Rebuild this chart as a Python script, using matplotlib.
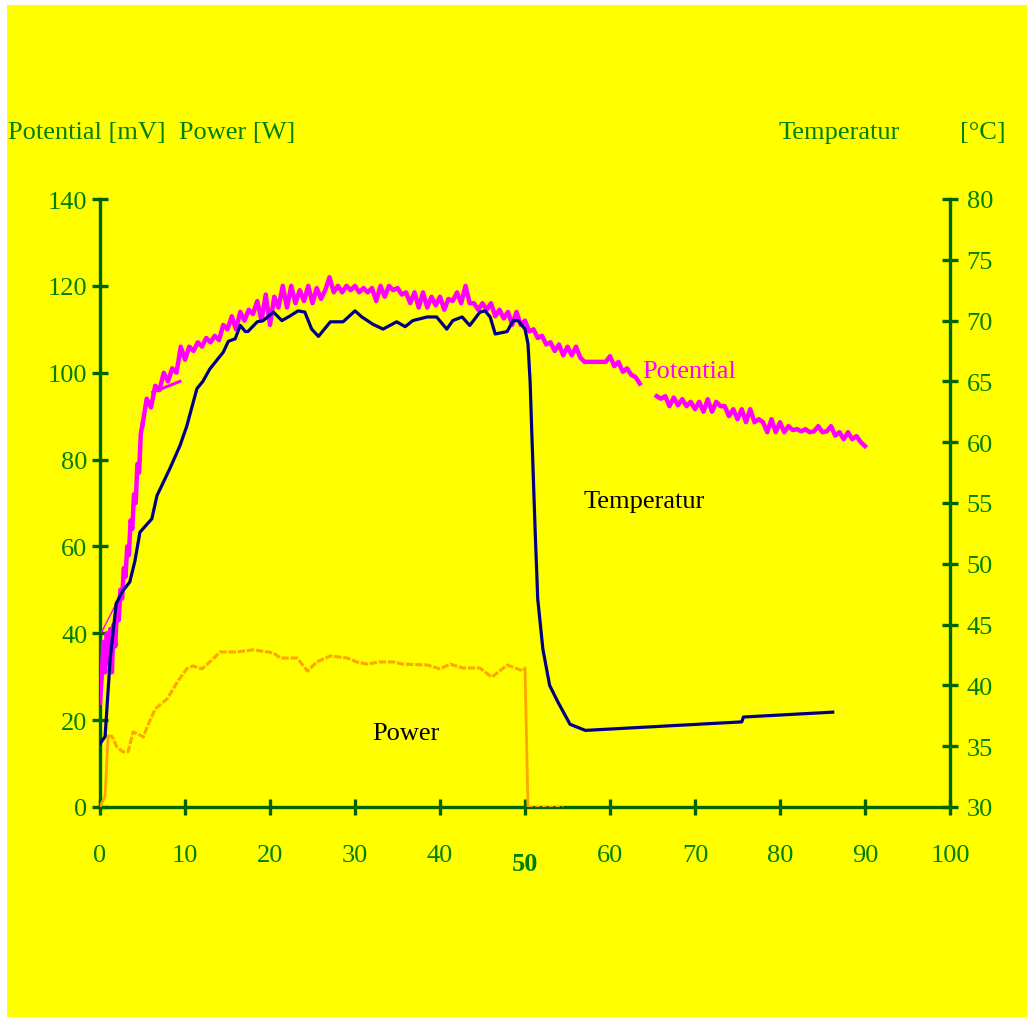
import matplotlib.pyplot as plt
import matplotlib.patches as patches
import numpy as np

plt.rcParams['font.family'] = ['Liberation Serif', 'DejaVu Serif']
plt.rcParams['font.size'] = 19

# ---- data ----
# temperature [°C] (right axis)
temp_t = [0, 0.6, 1.2, 1.9, 2.6, 3.5, 4.1, 4.7, 6.1, 6.7, 8.2, 9.4, 10.2, 11.4, 12.1, 12.9,
          14.5, 15.1, 15.9, 16.5, 17.1, 17.4, 18.5, 19.2, 20.4, 21.4, 22.4, 23.3, 24.1, 24.9,
          25.7, 27.1, 28.6, 30.0, 30.8, 32.1, 33.3, 34.9, 35.9, 36.8, 38.5, 39.6, 40.8, 41.5,
          42.6, 43.5, 44.7, 45.3, 45.9, 46.5, 47.9, 48.6, 49.2, 50.0, 50.35, 50.6, 50.8, 51.2,
          51.5, 52.1, 52.9, 53.9, 55.3, 57.1, 75.5, 75.7, 86.2]
temp_c = [35.2, 35.8, 42.2, 46.7, 47.7, 48.5, 50.2, 52.6, 53.7, 55.6, 57.8, 59.7, 61.3, 64.4,
          65.0, 66.0, 67.4, 68.3, 68.5, 69.6, 69.1, 69.1, 69.9, 70.0, 70.7, 70.0, 70.4, 70.8,
          70.7, 69.3, 68.7, 69.9, 69.9, 70.8, 70.3, 69.7, 69.3, 69.9, 69.5, 70.0, 70.3, 70.3,
          69.3, 70.0, 70.3, 69.6, 70.7, 70.8, 70.3, 68.9, 69.1, 70.0, 70.0, 69.3, 68.1, 65.0,
          60.8, 52.6, 47.1, 43.0, 40.0, 38.6, 36.8, 36.3, 37.0, 37.4, 37.8]

# power [W] (left axis)
power_t = [0, 0.6, 0.95, 1.4, 2.0, 2.7, 3.3, 3.9, 4.5, 5.1, 5.6, 6.5, 7.9, 9.1, 10.2, 10.9,
           12.0, 13.3, 14.1, 16.1, 18.0, 20.4, 21.2, 23.2, 24.4, 25.5, 27.1, 29.1, 30.2, 31.4,
           32.9, 34.5, 35.6, 38.5, 40.0, 41.2, 42.7, 44.7, 46.1, 47.9, 49.8, 50.0, 50.35, 54.5]
power_w = [0, 2.5, 16.3, 16.3, 13.8, 12.7, 12.7, 17.3, 16.8, 16.1, 18.7, 22.6, 24.9, 28.8,
           31.8, 32.5, 31.8, 34.1, 35.7, 35.7, 36.2, 35.5, 34.3, 34.3, 31.3, 33.4, 34.8, 34.3,
           33.4, 32.9, 33.4, 33.4, 32.9, 32.7, 31.8, 32.9, 32.0, 32.0, 29.9, 32.7, 31.3, 32.0,
           0, 0]

# potential [mV] (left axis), first steep part
pot_early_t = [0.0, 0.2, 0.4, 0.6, 0.8, 1.0, 1.2, 1.4, 1.6, 1.8, 2.0, 2.2, 2.4, 2.6, 2.8,
               3.0, 3.2, 3.4, 3.6, 3.8, 4.0, 4.2, 4.4, 4.6, 4.8]
pot_early_mv = [24, 30, 38, 31, 40, 33, 41, 31, 42, 37, 47, 43, 50, 48, 55, 53, 60, 58, 66,
                64, 72, 70, 79, 77, 86]
# potential sampled every 0.5 s from t = 5.0 to 63.5
pot_a_mv = [88, 94, 92, 97, 96, 100, 98, 101, 100, 106, 103, 106, 105, 107, 106, 108, 107,
            108.5, 107.5, 111, 110, 113, 110, 114, 112, 114.5, 113.5, 116.5, 112, 118, 111,
            117.5, 115, 120, 115, 120, 116, 119, 116.5, 120, 116, 119.5, 117, 119, 122, 118.5,
            120, 118.5, 120, 119, 120, 118.5, 119.5, 118.5, 119.5, 116.5, 120, 117.5, 120, 119,
            119.5, 118, 118.5, 116, 118.5, 115, 118.5, 115, 117.5, 115.5, 117.5, 114.5, 117,
            116.5, 118.5, 116, 120, 116, 116, 114.5, 116, 114.5, 116, 113, 114.5, 112.5, 114,
            111, 114, 111, 112, 109.5, 110, 108, 108.5, 106.5, 107, 105, 106.5, 104, 106, 104,
            106, 103.5, 102.5, 102.5, 102.5, 102.5, 102.5, 102.5, 103.8, 101.5, 102.5, 100.2,
            101, 99.5, 99, 97.5]
# potential sampled every 0.5 s from t = 65.5 to 90.0
pot_b_mv = [94.6, 94.0, 94.6, 92.3, 94.3, 92.5, 93.9, 92.3, 93.3, 91.6, 93.3, 91.0, 93.9, 91.0,
            93.3, 92.3, 92.3, 90.0, 91.6, 89.3, 91.6, 88.6, 91.6, 88.6, 89.3, 88.6, 86.3, 89.3,
            86.3, 88.6, 86.3, 87.7, 86.8, 87.0, 86.5, 87.0, 86.3, 86.5, 87.7, 86.3, 86.5, 87.7,
            85.5, 86.3, 84.7, 86.3, 84.7, 85.4, 84.0, 83.1]
# short stray potential segments
pot_stray_t = [6.2, 9.4]
pot_stray_mv = [95.5, 98.0]
pot_thin_t = [0.2, 2.35]
pot_thin_mv = [40.3, 48.6]

pot_a_t = 5.0 + 0.5 * np.arange(len(pot_a_mv))
pot_b_t = 65.5 + 0.5 * np.arange(len(pot_b_mv))

x_ticks = list(range(0, 101, 10))
left_ticks = list(range(0, 141, 20))
right_ticks = list(range(30, 81, 5))

axis_green = '#006400'
text_green = '#008000'

W, H = 1034, 1020
fig = plt.figure(figsize=(W / 100, H / 100), dpi=100)
fig.patch.set_facecolor('white')
fig.patches.append(patches.Rectangle((7 / W, 1 - 1018 / H), 1020 / W, 1012 / H,
                                     transform=fig.transFigure, facecolor='#FFFF00',
                                     edgecolor='none', zorder=-5))

ax = fig.add_axes([100 / W, 1 - 808 / H, 850 / W, 608 / H])
ax.set_facecolor('none')
ax2 = ax.twinx()
ax2.set_facecolor('none')

# power
ax.plot(power_t[:3], power_w[:3], color='#FFA500', lw=2.0, zorder=3)
ax.plot(power_t[2:42], power_w[2:42], color='#FFA500', lw=2.2, dashes=(2.4, 0.6), zorder=3)
ax.plot(power_t[41:43], power_w[41:43], color='#FFA500', lw=2.0, zorder=3)
ax.plot(power_t[42:], power_w[42:], color='#FFA500', lw=2.2, dashes=(1.5, 0.7), zorder=3)

# potential
ax.plot(pot_early_t + [pot_a_t[0]], pot_early_mv + [pot_a_mv[0]], color='#FF00FF', lw=3.2, zorder=4)
ax.plot(pot_a_t, pot_a_mv, color='#FF00FF', lw=3.2, zorder=4)
ax.plot(pot_b_t, pot_b_mv, color='#FF00FF', lw=3.2, zorder=4)
ax.plot(pot_stray_t, pot_stray_mv, color='#FF00FF', lw=2.2, zorder=4)
ax.plot(pot_thin_t, pot_thin_mv, color='#FF00FF', lw=1.0, zorder=4)

# temperature
ax2.plot(temp_t, temp_c, color='#000080', lw=2.3, zorder=5)

ax.set_xlim(0, 100)
ax.set_ylim(0, 140)
ax2.set_ylim(30, 80)

for a in (ax, ax2):
    for s in a.spines.values():
        s.set_visible(False)
        s.set_color(axis_green)
        s.set_linewidth(2.4)
ax.spines['left'].set_visible(True)
ax.spines['bottom'].set_visible(True)
ax2.spines['right'].set_visible(True)

ax.set_xticks(x_ticks)
ax.set_xticklabels(['' if v == 50 else str(v) for v in x_ticks])
ax.set_yticks(left_ticks)
ax2.set_yticks(right_ticks)

ax.tick_params(axis='x', direction='inout', length=12, width=2.4, color=axis_green,
               labelcolor=text_green, pad=21, labelsize=19)
ax.tick_params(axis='y', direction='inout', length=12, width=2.4, color=axis_green,
               labelcolor=text_green, pad=3, labelsize=19)
ax2.tick_params(axis='y', direction='inout', length=12, width=2.4, color=axis_green,
                labelcolor=text_green, pad=6, labelsize=19)

ax.annotate('50', xy=(50, 0), xycoords=('data', 'axes fraction'), xytext=(0, -57),
            textcoords='offset pixels', ha='center', va='center', fontweight='bold',
            color=text_green, fontsize=19, annotation_clip=False)

# in-plot labels
ax.text(63.8, 100.4, 'Potential', color='#FF00FF', fontsize=19, ha='left', va='center', zorder=6)
ax.text(64.0, 70.5, 'Temperatur', color='black', fontsize=19, ha='center', va='center')
ax.text(36.0, 17.0, 'Power', color='black', fontsize=19, ha='center', va='center')

# axis titles
fig.text(8 / W, 1 - 133 / H, 'Potential [mV]  Power [W]', color=text_green, fontsize=19,
         ha='left', va='center')
fig.text(779 / W, 1 - 133 / H, 'Temperatur', color=text_green, fontsize=19, ha='left', va='center')
fig.text(960 / W, 1 - 133 / H, '[°C]', color=text_green, fontsize=19, ha='left', va='center')

fig.savefig('out.png', dpi=100, facecolor=fig.get_facecolor())
